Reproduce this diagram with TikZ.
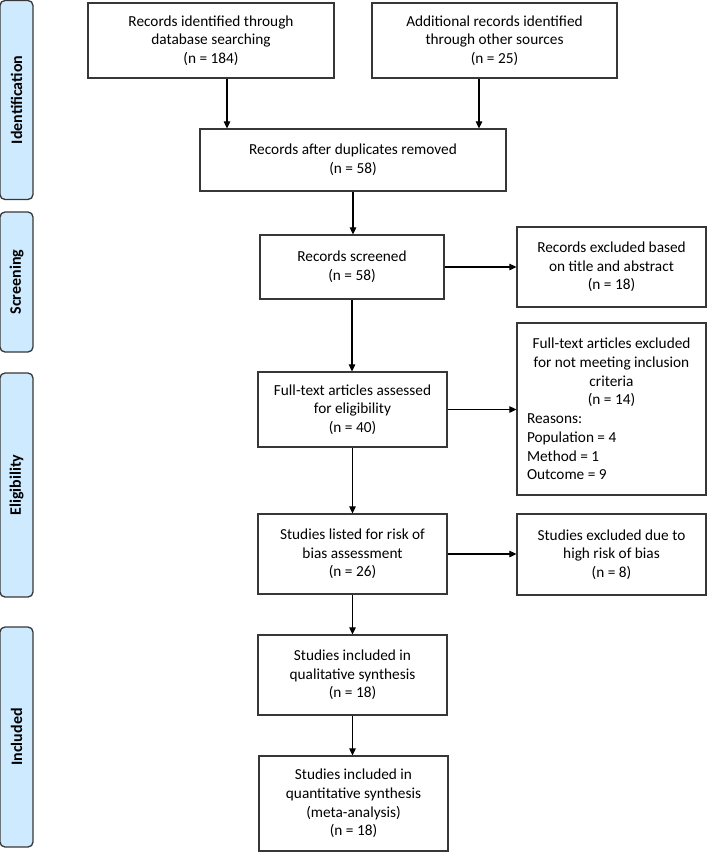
\documentclass[tikz,border=0pt]{standalone}
\usepackage{fontspec}
\setmainfont{Carlito}
\usepackage{xcolor}
\definecolor{fase}{RGB}{206,234,255}
\definecolor{bordo}{RGB}{55,55,55}
\usetikzlibrary{arrows.meta}

\begin{document}
\begin{tikzpicture}[
  x=1pt, y=-1pt,
  every node/.style={
    font=\fontsize{15.3}{18.7}\selectfont
  },
  box/.style={
    rectangle, draw=bordo, line width=1.2pt,
    align=center, inner sep=4pt
  },
  fasebox/.style={
    rectangle, draw=bordo, line width=1.3pt, rounded corners=5pt,
    fill=fase, rotate=90, minimum height=33pt,
    font=\fontsize{16}{18.7}\selectfont\bfseries
  },
  freccia/.style={
    draw=black, line width=1.1pt, -{Triangle[length=7pt,width=6.5pt]}
  }
]
\useasboundingbox (0,0) rectangle (709,852);

% colonna delle fasi
\node[fasebox, minimum width=199pt] (identificazione) at (16.5,100) {Identification};
\node[fasebox, minimum width=140pt] (screening) at (16.5,282) {Screening};
\node[fasebox, minimum width=224pt] (eleggibilita) at (16.5,485) {Eligibility};
\node[fasebox, minimum width=220pt] (inclusi) at (16.5,737) {Included};

\node[box, minimum width=246pt, minimum height=75pt] (database) at (211,40.5)
  {Records identified through\\database searching\\(n = 184)};
\node[box, minimum width=245pt, minimum height=75pt] (altrefonti) at (494.5,40.5)
  {Additional records identified\\through other sources\\(n = 25)};
\node[box, minimum width=306pt, minimum height=62pt] (duplicati) at (353,160)
  {Records after duplicates removed\\(n = 58)};
\node[box, minimum width=184pt, minimum height=64pt] (screenati) at (352,267)
  {Records screened\\(n = 58)};
\node[box, minimum width=189pt, minimum height=80pt] (esclusi1) at (611.5,267)
  {Records excluded based\\on title and abstract\\(n = 18)};
\node[box, minimum width=189pt, minimum height=75pt] (fulltext) at (352.5,409.5)
  {Full-text articles assessed\\for eligibility\\(n = 40)};
\node[box, align=left, inner sep=10pt, minimum height=172pt] (esclusi2) at (611.5,409)
  {\makebox[169pt]{Full-text articles excluded}\\
   \makebox[169pt]{for not meeting inclusion}\\
   \makebox[169pt]{criteria}\\
   \makebox[169pt]{(n = 14)}\\
   Reasons:\\Population = 4\\Method = 1\\Outcome = 9};
\node[box, minimum width=189pt, minimum height=80pt] (rischio) at (352.5,554)
  {Studies listed for risk of\\bias assessment\\(n = 26)};
\node[box, minimum width=189pt, minimum height=81pt] (esclusi3) at (611.5,554.5)
  {Studies excluded due to\\high risk of bias\\(n = 8)};
\node[box, minimum width=189pt, minimum height=80pt] (qualitativa) at (352.5,675)
  {Studies included in\\qualitative synthesis\\(n = 18)};
\node[box, minimum width=189pt, minimum height=95pt] (quantitativa) at (353.5,803.5)
  {Studies included in\\quantitative synthesis\\(meta-analysis)\\(n = 18)};

% frecce
\draw[freccia] ([xshift=16pt]database.south) -- ([xshift=16pt]database.south |- duplicati.north);
\draw[freccia] ([xshift=-15.5pt]altrefonti.south) -- ([xshift=-15.5pt]altrefonti.south |- duplicati.north);
\draw[freccia] (duplicati.south) -- (duplicati.south |- screenati.north);
\draw[freccia] (screenati.east) -- (screenati.east -| esclusi1.west);
\draw[freccia] (screenati.south) -- (screenati.south |- fulltext.north);
\draw[freccia] (fulltext.east) -- (fulltext.east -| esclusi2.west);
\draw[freccia] (fulltext.south) -- (fulltext.south |- rischio.north);
\draw[freccia] (rischio.east) -- (rischio.east -| esclusi3.west);
\draw[freccia] (rischio.south) -- (rischio.south |- qualitativa.north);
\draw[freccia] (qualitativa.south) -- (qualitativa.south |- quantitativa.north);
\end{tikzpicture}
\end{document}
